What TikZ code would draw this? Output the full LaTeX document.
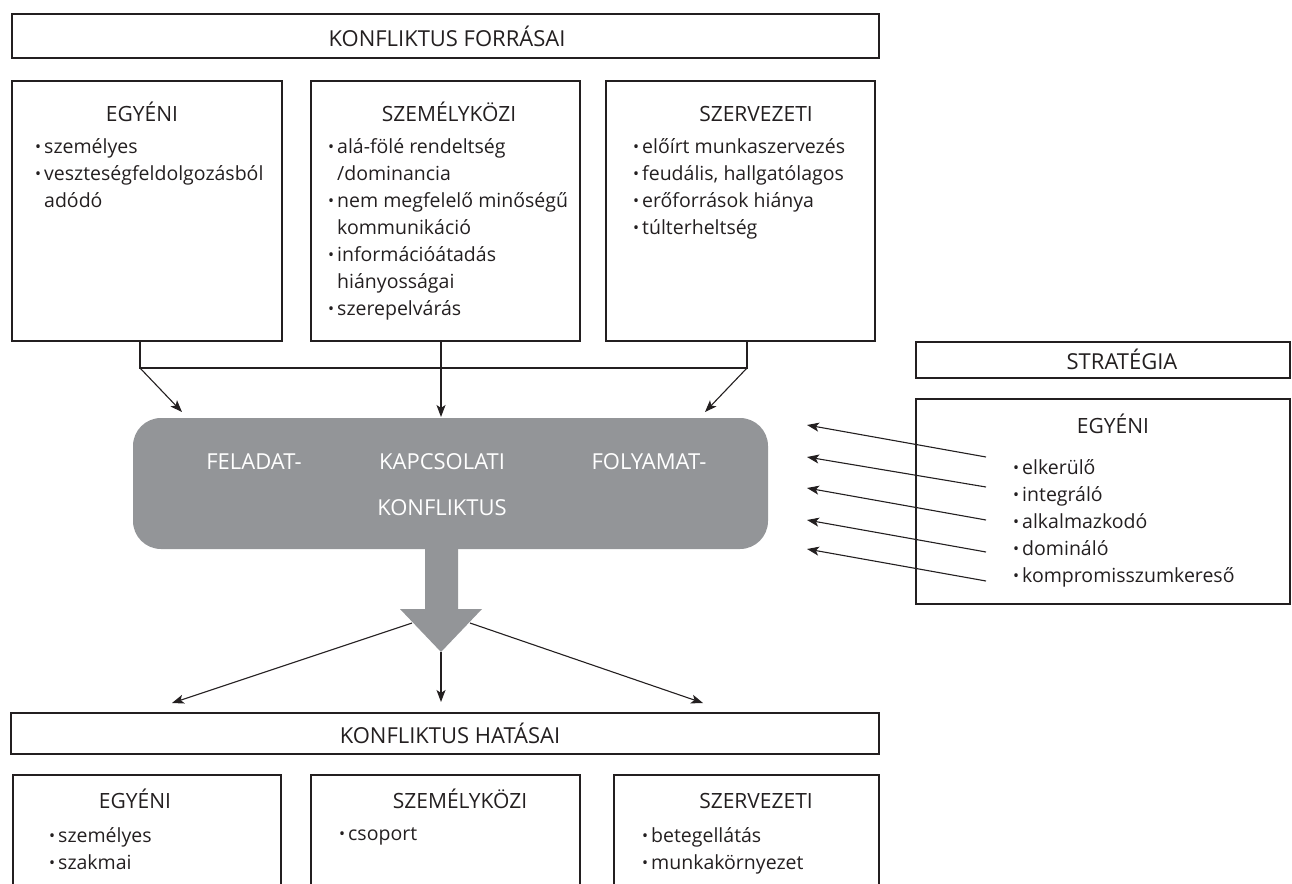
\documentclass[tikz,border=0pt]{standalone}
\usepackage{fontspec}
\setmainfont{Open Sans}
\usetikzlibrary{arrows.meta}
\definecolor{ink}{HTML}{231F20}
\definecolor{konfgray}{HTML}{939598}
\newcommand{\bl}{\makebox[9pt][l]{\raisebox{0.5pt}{\fontsize{16}{16}\selectfont\textbullet}}}
\newcommand{\ct}{\hspace*{9pt}}
\begin{document}
\begin{tikzpicture}[x=1pt,y=-1pt,
  >={Stealth[length=12pt,width=9pt,inset=3pt]},
  box/.style={draw=ink,line width=1.2pt,inner sep=0pt},
  head/.style={font=\fontsize{22}{26}\selectfont,text=ink,anchor=base,inner sep=0pt},
  sub/.style={font=\fontsize{21}{25}\selectfont,text=ink,anchor=base,inner sep=0pt},
  items/.style={font=\fontsize{19.5}{27}\selectfont,text=ink,align=left,anchor=north west,inner sep=0pt},
  ktext/.style={font=\fontsize{22}{26}\selectfont,text=white,anchor=base,inner sep=0pt},
  conn/.style={draw=ink,line width=1.1pt}]
\useasboundingbox (0,0) rectangle (1292,883);
\clip (0,0) rectangle (1292,883);

% forrasok
\node[box,minimum width=867pt,minimum height=44pt] (forr) at (445.5,36) {};
\node[head] at (447,46.5) {KONFLIKTUS FORRÁSAI};
\node[box,minimum width=270pt,minimum height=260pt] (egy) at (147,211) {};
\node[box,minimum width=269pt,minimum height=260pt] (szk) at (445.5,211) {};
\node[box,minimum width=269pt,minimum height=260pt] (szv) at (740.5,211) {};
\node[sub] at (142,121.5) {EGYÉNI};
\node[sub] at (449,121.5) {SZEMÉLYKÖZI};
\node[sub] at (756,121.5) {SZERVEZETI};
\node[items] at (35,138) {\bl személyes\\\bl veszteségfeldolgozásból\\\ct adódó};
\node[items] at (328,138) {\bl alá-fölé rendeltség\\\ct /dominancia\\\bl nem megfelelő minőségű\\\ct kommunikáció\\\bl információátadás\\\ct hiányosságai\\\bl szerepelvárás};
\node[items] at (633,138) {\bl előírt munkaszervezés\\\bl feudális, hallgatólagos\\\bl erőforrások hiánya\\\bl túlterheltség};

% konfliktus
\coordinate (l1) at (412,623);
\coordinate (l3) at (470,623);
\coordinate (b1) at (172,703);
\coordinate (b2) at (441,702);
\coordinate (b3) at (703,703);
\draw[conn,->] (l1) -- (b1);
\draw[conn,->] (l3) -- (b3);
\node[fill=konfgray,rounded corners=28pt,minimum width=635pt,minimum height=131pt,inner sep=0pt] (konf) at (450.5,483.5) {};
\fill[konfgray] (425,545) -- (425,609) -- (400,609) -- (441,652) -- (482,609) -- (458,609) -- (458,545) -- cycle;
\coordinate (ktip) at (441,652);
\draw[conn,->] (ktip) -- (b2);
\node[ktext] at (254,469) {FELADAT-};
\node[ktext] at (442,469) {KAPCSOLATI};
\node[ktext] at (649,469) {FOLYAMAT-};
\node[ktext] at (442,515) {KONFLIKTUS};

% forrasok -> konfliktus
\coordinate (j1) at (140,368);
\coordinate (j3) at (747,368);
\coordinate (t1) at (182,412);
\coordinate (t2) at (441,417);
\coordinate (t3) at (705,412);
\draw[conn] (egy.south -| j1) -- (j1) -- (j3) -- (szv.south -| j3);
\draw[conn,->] (j1) -- (t1);
\draw[conn,->] (j3) -- (t3);
\draw[conn,->] (szk.south -| t2) -- (t2);

% strategia
\node[box,minimum width=374pt,minimum height=36pt] (strat) at (1103,360) {};
\node[head] at (1122,369) {STRATÉGIA};
\node[box,minimum width=374pt,minimum height=205pt] (se) at (1103,501.5) {};
\node[sub] at (1113,433) {EGYÉNI};
\node[items] at (1013,459) {\bl elkerülő\\\bl integráló\\\bl alkalmazkodó\\\bl domináló\\\bl kompromisszumkereső};
\foreach \ya/\yb [count=\i] in {457/425,487/457,520/488,552/520,581/549} {
  \coordinate (sa\i) at (986,\ya);
  \coordinate (sb\i) at (807,\yb);
  \draw[conn,->] (sa\i) -- (sb\i);
}

% hatasok
\node[box,minimum width=868pt,minimum height=41pt] (hat) at (445,733.5) {};
\node[head] at (450,743) {KONFLIKTUS HATÁSAI};
\node[box,minimum width=268pt,minimum height=130pt] (egy2) at (147,840) {};
\node[box,minimum width=269pt,minimum height=130pt] (szk2) at (445.5,840) {};
\node[box,minimum width=265pt,minimum height=130pt] (szv2) at (746.5,840) {};
\node[sub] at (135,808) {EGYÉNI};
\node[sub] at (460,808) {SZEMÉLYKÖZI};
\node[sub] at (756,808) {SZERVEZETI};
\node[items] at (49,827) {\bl személyes\\\bl szakmai};
\node[items] at (339,827) {\bl csoport};
\node[items] at (642,827) {\bl betegellátás\\\bl munkakörnyezet};
\end{tikzpicture}
\end{document}
